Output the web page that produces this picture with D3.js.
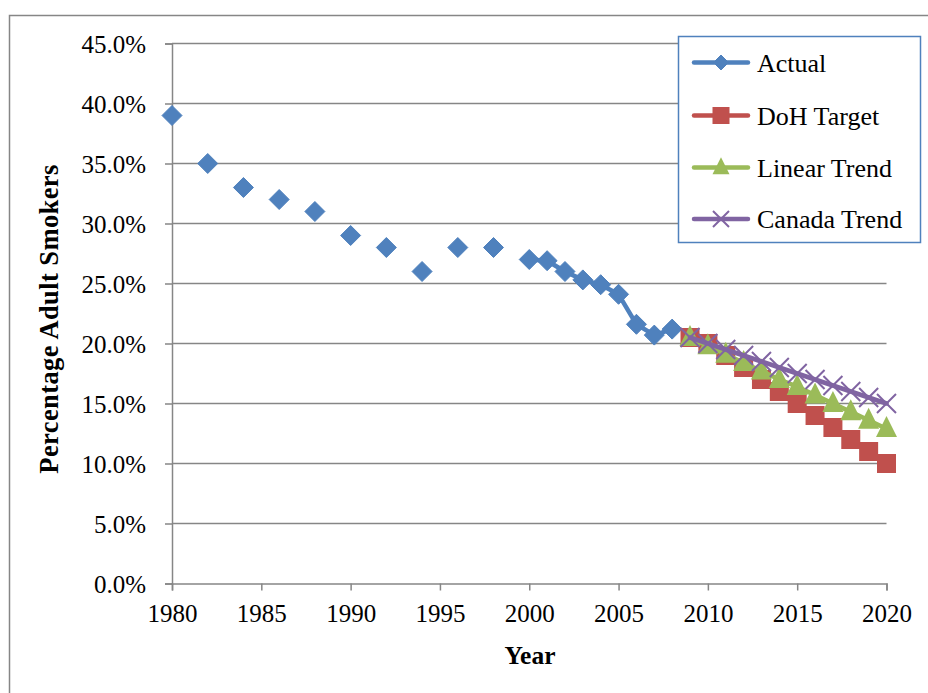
<!DOCTYPE html>
<html><head><meta charset="utf-8">
<script src="https://cdn.jsdelivr.net/npm/d3@7"></script>
<style>body{margin:0;background:#fff}svg{display:block}</style>
</head><body>
<svg id="c" width="928" height="693"></svg>
<script>
// Data
const actualYears  = [1980,1982,1984,1986,1988,1990,1992,1994,1996,1998,2000,2001,2002,2003,2004,2005,2006,2007,2008];
const actualValues = [39.0,35.0,33.0,32.0,31.0,29.0,28.0,26.0,28.0,28.0,27.0,26.9,26.0,25.3,24.9,24.1,21.6,20.7,21.2];
const projYears    = [2009,2010,2011,2012,2013,2014,2015,2016,2017,2018,2019,2020];
const dohValues    = [20.5,20.0,19.0,18.0,17.0,16.0,15.0,14.0,13.0,12.0,11.0,10.0];
const linearValues = [20.5,19.8,19.1,18.4,17.7,17.0,16.4,15.7,15.0,14.3,13.6,12.9];
const canadaValues = [20.5,20.0,19.5,19.0,18.5,18.0,17.5,17.0,16.5,16.0,15.5,15.0];
const xTicks = [1980,1985,1990,1995,2000,2005,2010,2015,2020];
const yTicks = [0,5,10,15,20,25,30,35,40,45];
const seriesNames = ["Actual","DoH Target","Linear Trend","Canada Trend"];
const seriesColors = ["#4F81BD","#C0504D","#9BBB59","#8064A2"];

const svg = d3.select("#c");
const font = "'Liberation Serif','Times New Roman',serif";
const grey = "#868686";

// outer border
svg.append("path").attr("d","M9.5,693 L9.5,15.5 L928,15.5").attr("fill","none").attr("stroke",grey).attr("stroke-width",1.5);

const x = d3.scaleLinear().domain([1980,2020]).range([172,886.5]);
const y = d3.scaleLinear().domain([0,45]).range([583.5,43.5]);

// gridlines
svg.append("g").selectAll("line").data(yTicks.slice(1)).join("line")
  .attr("x1",x(1980)).attr("x2",x(2020)).attr("y1",d=>y(d)).attr("y2",d=>y(d))
  .attr("stroke",grey).attr("stroke-width",1.5);

// axes
const yAxis = svg.append("g").attr("transform",`translate(${x(1980)},0)`)
  .call(d3.axisLeft(y).tickValues(yTicks).tickSize(7).tickPadding(19).tickFormat(d=>d3.format(".1f")(d)+"%"));
const xAxis = svg.append("g").attr("transform",`translate(0,${y(0)})`)
  .call(d3.axisBottom(x).tickValues(xTicks).tickSize(7).tickPadding(14).tickFormat(d3.format("d")));
[yAxis,xAxis].forEach(a=>{
  a.select(".domain").attr("stroke",grey).attr("stroke-width",1.5);
  a.selectAll(".tick line").attr("stroke",grey).attr("stroke-width",1.5);
  a.selectAll("text").attr("font-family",font).attr("font-size",25).attr("fill","#000");
});
yAxis.selectAll("text").attr("dy","0.34em");

// axis titles
svg.append("text").attr("x",530).attr("y",664).attr("text-anchor","middle")
  .attr("font-family",font).attr("font-weight","bold").attr("font-size",25.5).text("Year");
svg.append("text").attr("transform","translate(58,319) rotate(-90)").attr("text-anchor","middle")
  .attr("font-family",font).attr("font-weight","bold").attr("font-size",26.5).attr("letter-spacing","0.4px").text("Percentage Adult  Smokers");

// marker drawing
function marker(g, type, color, s){
  if(type===0){ // diamond
    g.append("path").attr("d",`M0,${-s/2}L${s/2},0L0,${s/2}L${-s/2},0Z`).attr("fill",color).attr("stroke",color).attr("stroke-width",1);
  } else if(type===1){ // square
    g.append("rect").attr("x",-s/2).attr("y",-s/2).attr("width",s).attr("height",s).attr("fill",color);
  } else if(type===2){ // triangle
    g.append("path").attr("d",`M0,${-s*0.6}L${s/2},${s*0.4}L${-s/2},${s*0.4}Z`).attr("fill",color);
  } else { // x
    const h=s/2;
    g.append("path").attr("d",`M${-h},${-h}L${h},${h}M${-h},${h}L${h},${-h}`).attr("stroke",color).attr("stroke-width",2).attr("fill","none");
  }
}

const allSeries = [
  {years:actualYears, values:actualValues},
  {years:projYears, values:dohValues},
  {years:projYears, values:linearValues},
  {years:projYears, values:canadaValues}
];
const sizes=[20,19,21,19];

allSeries.forEach((s,i)=>{
  const pts = s.years.map((yr,j)=>({yr, v:s.values[j]}));
  const g = svg.append("g");
  // break line where consecutive years are missing (gaps)
  const segs=[]; let cur=[];
  pts.forEach((p,j)=>{
    if(j>0 && p.yr-pts[j-1].yr>1){ segs.push(cur); cur=[]; }
    cur.push(p);
  });
  segs.push(cur);
  const line = d3.line().x(d=>x(d.yr)).y(d=>y(d.v));
  segs.filter(sg=>sg.length>1).forEach(sg=>{
    g.append("path").attr("d",line(sg)).attr("fill","none").attr("stroke",seriesColors[i])
      .attr("stroke-width",4.5).attr("stroke-linejoin","round").attr("stroke-linecap","round");
  });
  pts.forEach(p=>{
    marker(g.append("g").attr("transform",`translate(${x(p.yr)},${y(p.v)})`), i, seriesColors[i], sizes[i]);
  });
});

// legend
const lg = svg.append("g");
lg.append("rect").attr("x",678.5).attr("y",36.5).attr("width",242).attr("height",206)
  .attr("fill","#fff").attr("stroke","#4F81BD").attr("stroke-width",1.5);
const rowY=[62.5,115.5,167.5,219];
seriesNames.forEach((n,i)=>{
  lg.append("line").attr("x1",694).attr("x2",748).attr("y1",rowY[i]).attr("y2",rowY[i])
    .attr("stroke",seriesColors[i]).attr("stroke-width",4.5).attr("stroke-linecap","round");
  marker(lg.append("g").attr("transform",`translate(721,${rowY[i]})`), i, seriesColors[i], [15,17,17,16][i]);
  lg.append("text").attr("x",757).attr("y",rowY[i]).attr("dy","0.35em")
    .attr("font-family",font).attr("font-size",26).text(n);
});
</script>
</body></html>
